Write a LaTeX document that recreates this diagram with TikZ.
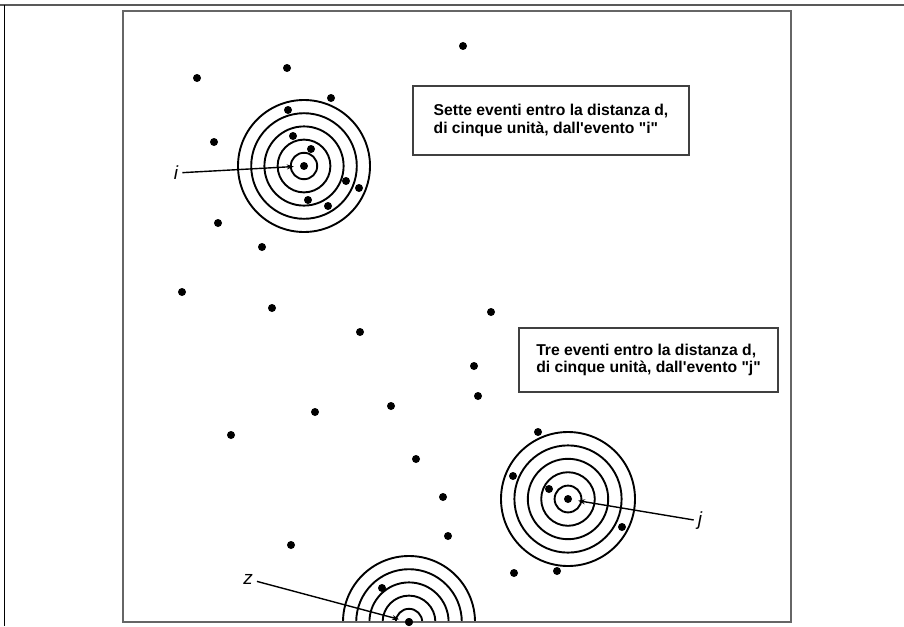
\documentclass[tikz,border=0pt]{standalone}
\usepackage{fontspec}
\setmainfont{Liberation Sans}[Ligatures=TeXOff]
\usetikzlibrary{arrows.meta}
\begin{document}
\begin{tikzpicture}[x=1pt,y=-1pt,
  ev/.style={circle,fill=black,inner sep=0pt,minimum size=8pt},
  ring/.style={line width=1.9pt},
  outerline/.style={draw=black!65,line width=1.6pt},
  framebox/.style={draw=black!60,line width=2.2pt},
  note/.style={draw=black!75,line width=1.6pt,align=left,
    font=\bfseries\fontsize{15.7}{17.5}\selectfont,inner xsep=8pt,inner ysep=0pt},
  lab/.style={font=\itshape\fontsize{19}{19}\selectfont,inner sep=4pt},
  ptr/.style={line width=1.4pt,-{Stealth[length=7pt,width=5pt]},shorten >=6pt}]
\useasboundingbox (0,0) rectangle (904,626);
% outer page lines
\coordinate (tl) at (0,5);
\coordinate (tr) at (904,5);
\coordinate (tlv) at (4,5);
\coordinate (bl) at (4,626);
\draw[outerline] (tl) -- (tr);
\draw[line width=1pt] (tlv) -- (bl);
% centres
\node[ev] (ci) at (304,166) {};
\node[ev] (cj) at (568,499) {};
\node[ev] (cz) at (409,622) {};
% rings
\foreach \r in {13.2,26.4,39.6,52.8,66} \draw[ring] (ci) circle[radius=\r];
\foreach \r in {13.4,26.8,40.2,53.6,67} \draw[ring] (cj) circle[radius=\r];
\begin{scope}
  \clip (123,11) rectangle (791,622);
  \foreach \r in {13.2,26.4,39.6,52.8,66} \draw[ring] (cz) circle[radius=\r];
\end{scope}
% frame
\draw[framebox] (123,11) rectangle (791,622);
\node[ev] at (cz) {};
% events
\foreach \p [count=\k] in {
 (463,46),(197,78),(287,68),(331,98),(288,110),(214,142),(293,136),(311,149),
 (346,181),(359,188),(308,200),(328,206),(218,223),(262,247),(182,292),(272,308),
 (360,332),(491,312),(474,366),(478,396),(315,412),(391,406),(231,435),
 (538,432),(513,476),(549,489),(622,527),(514,573),(557,571),
 (416,459),(443,497),(448,536),(291,545),(382,588)}
 \node[ev] (e\k) at \p {};
% notes
\node[note,minimum width=276pt,minimum height=69pt] (n1) at (551,120.5)
  {Sette eventi entro la distanza d,\\di cinque unità, dall'evento "i"};
\node[note,minimum width=259pt,minimum height=64pt] (n2) at (648.5,360)
  {Tre eventi entro la distanza d,\\di cinque unità, dall'evento "j"};
% labels and pointers
\node[lab] (li) at (176,173) {i};
\node[lab] (lj) at (700,521) {j};
\node[lab] (lz) at (248,579) {z};
\draw[ptr] (li) -- (ci);
\draw[ptr] (lj) -- (cj);
\draw[ptr] (lz) -- (cz);
\end{tikzpicture}
\end{document}
